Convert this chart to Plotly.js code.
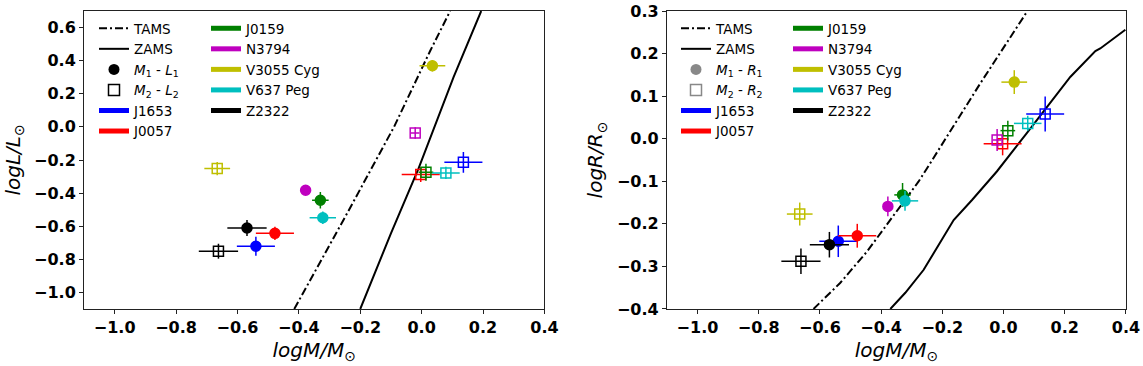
<!DOCTYPE html>
<html>
<head>
<meta charset="utf-8">
<script src="https://cdn.plot.ly/plotly-3.0.1.min.js"></script>
<style>
  html, body { margin: 0; padding: 0; background: #fff; }
  #chart { width: 1143px; height: 366px; }
</style>
</head>
<body>
<div id="chart"></div>
<script>
  // --- data ---
  const stars = ['J1653', 'J0057', 'J0159', 'N3794', 'V3055 Cyg', 'V637 Peg', 'Z2322'];
  const starColors = ['#0000ff', '#ff0000', '#008000', '#bf00bf', '#bfbf00', '#00bfbf', '#000000'];

  // log M (primary, secondary) and errors
  const logM1 = [-0.540, -0.478, -0.330, -0.378, 0.035, -0.322, -0.569];
  const logM2 = [0.136, -0.003, 0.014, -0.021, -0.666, 0.079, -0.662];
  const errM1 = [0.062, 0.062, 0.027, 0.010, 0.042, 0.043, 0.064];
  const errM2 = [0.062, 0.062, 0.024, 0.014, 0.042, 0.045, 0.064];

  // log L
  const logL1 = [-0.721, -0.643, -0.443, -0.383, 0.369, -0.549, -0.611];
  const logL2 = [-0.214, -0.288, -0.274, -0.037, -0.252, -0.278, -0.751];
  const errL1 = [0.057, 0.040, 0.050, 0.012, 0.035, 0.038, 0.048];
  const errL2 = [0.063, 0.045, 0.052, 0.035, 0.040, 0.037, 0.045];

  // log R
  const logR1 = [-0.241, -0.228, -0.132, -0.159, 0.133, -0.146, -0.249];
  const logR2 = [0.058, -0.012, 0.019, -0.003, -0.177, 0.036, -0.288];
  const errR1 = [0.037, 0.028, 0.028, 0.023, 0.028, 0.023, 0.030];
  const errR2 = [0.041, 0.027, 0.023, 0.026, 0.027, 0.018, 0.030];

  // evolutionary tracks
  const tamsLM = [-0.415, -0.243, -0.090, 0.028, 0.093];
  const tamsLL = [-1.1, -0.523, 0.0, 0.46, 0.7];
  const zamsLM = [-0.200, -0.100, -0.010, 0.104, 0.194];
  const zamsLL = [-1.1, -0.643, -0.25, 0.30, 0.7];

  const tamsRM = [-0.621, -0.534, -0.446, -0.348, -0.278, -0.240, -0.076, 0.078];
  const tamsRR = [-0.400, -0.339, -0.265, -0.171, -0.101, -0.058, 0.130, 0.300];
  const zamsRM = [-0.370, -0.321, -0.261, -0.207, -0.163, -0.103, -0.022, 0.076, 0.218, 0.300, 0.316, 0.398];
  const zamsRR = [-0.400, -0.362, -0.308, -0.245, -0.191, -0.144, -0.077, 0.013, 0.145, 0.206, 0.212, 0.256];

  const FONT = 'DejaVu Sans';
  const tamsDash = '8px,3px,2px,3px';

  function panel(xa, ya, yName, lgA, lgB, markerCol, tM, tY, zM, zY, y1, y2, ey1, ey2) {
    const tr = [];
    tr.push({x: tM, y: tY, xaxis: xa, yaxis: ya, mode: 'lines', name: 'TAMS', legend: lgA,
             line: {color: '#000', width: 2, dash: tamsDash}, hoverinfo: 'skip'});
    tr.push({x: zM, y: zY, xaxis: xa, yaxis: ya, mode: 'lines', name: 'ZAMS', legend: lgA,
             line: {color: '#000', width: 2}, hoverinfo: 'skip'});
    tr.push({x: [null], y: [null], xaxis: xa, yaxis: ya, mode: 'markers', legend: lgA,
             name: '<i>M</i><sub>1</sub> - <i>' + yName + '</i><sub>1</sub>',
             marker: {symbol: 'circle', size: 11, color: markerCol}});
    tr.push({x: [null], y: [null], xaxis: xa, yaxis: ya, mode: 'markers', legend: lgA,
             name: '<i>M</i><sub>2</sub> - <i>' + yName + '</i><sub>2</sub>',
             marker: {symbol: 'square-open', size: 11, color: markerCol, line: {width: 1.5}}});
    stars.forEach((s, i) => {
      tr.push({x: [null], y: [null], xaxis: xa, yaxis: ya, mode: 'lines', name: s,
               legend: i < 2 ? lgA : lgB, line: {color: starColors[i], width: 5}});
    });
    stars.forEach((s, i) => {
      const c = starColors[i];
      tr.push({
        x: [logM1[i], logM2[i]], y: [y1[i], y2[i]], xaxis: xa, yaxis: ya,
        mode: 'markers', showlegend: false, name: s,
        marker: {symbol: ['circle', 'square-open'], size: 10, color: c, line: {color: c, width: 1.5}},
        error_x: {type: 'data', array: [errM1[i], errM2[i]], color: c, thickness: 1.5, width: 0},
        error_y: {type: 'data', array: [ey1[i], ey2[i]], color: c, thickness: 1.5, width: 0}
      });
    });
    return tr;
  }

  const traces = [].concat(
    panel('x', 'y', 'L', 'legend', 'legend2', '#000',
          tamsLM, tamsLL, zamsLM, zamsLL, logL1, logL2, errL1, errL2),
    panel('x2', 'y2', 'R', 'legend3', 'legend4', '#888',
          tamsRM, tamsRR, zamsRM, zamsRR, logR1, logR2, errR1, errR2)
  );

  const axisCommon = {
    showline: true, mirror: true, linecolor: '#222', linewidth: 1,
    ticks: 'outside', ticklen: 4, tickwidth: 1, tickcolor: '#222',
    showgrid: false, zeroline: false, tickformat: '.1f', tickangle: 0, automargin: false,
    tickfont: {family: FONT, size: 16, color: '#000', weight: 'bold'}
  };
  const titleFont = {family: FONT, size: 20, color: '#000'};
  const xTitle = {text: '<i>logM/M</i><sub>⊙</sub>', font: titleFont, standoff: 6};

  // plot area: 84..1126 px across, 11..309 px down
  const px = v => (v - 84) / 1042;
  const py = v => 1 - (v - 11) / 298;
  const legendBase = {
    font: {family: FONT, size: 13.5, color: '#000'}, bgcolor: 'rgba(0,0,0,0)', borderwidth: 0,
    xref: 'paper', yref: 'paper', xanchor: 'left', yanchor: 'top',
    tracegroupgap: 0, itemwidth: 30
  };

  const layout = {
    width: 1143, height: 366,
    margin: {l: 84, r: 17, t: 11, b: 57},
    paper_bgcolor: '#fff', plot_bgcolor: '#fff',
    font: {family: FONT, color: '#000'},
    xaxis: Object.assign({}, axisCommon, {domain: [0, 0.4419], range: [-1.1, 0.4001], dtick: 0.2, tick0: 0,
      anchor: 'y', title: xTitle}),
    yaxis: Object.assign({}, axisCommon, {domain: [0, 1], range: [-1.1, 0.7], dtick: 0.2, tick0: 0,
      anchor: 'x', title: {text: '<i>logL/L</i><sub>⊙</sub>', font: titleFont, standoff: 8}}),
    xaxis2: Object.assign({}, axisCommon, {domain: [0.5594, 1], range: [-1.1, 0.4001], dtick: 0.2, tick0: 0,
      anchor: 'y2', title: xTitle}),
    yaxis2: Object.assign({}, axisCommon, {domain: [0, 1], range: [-0.4001, 0.3001], dtick: 0.1, tick0: 0,
      anchor: 'x2', title: {text: '<i>logR/R</i><sub>⊙</sub>', font: titleFont, standoff: 8}}),
    legend: Object.assign({}, legendBase, {x: px(94), y: py(13)}),
    legend2: Object.assign({}, legendBase, {x: px(206), y: py(13)}),
    legend3: Object.assign({}, legendBase, {x: px(676), y: py(13)}),
    legend4: Object.assign({}, legendBase, {x: px(788), y: py(13)})
  };

  Plotly.newPlot('chart', traces, layout, {staticPlot: true});
</script>
</body>
</html>
